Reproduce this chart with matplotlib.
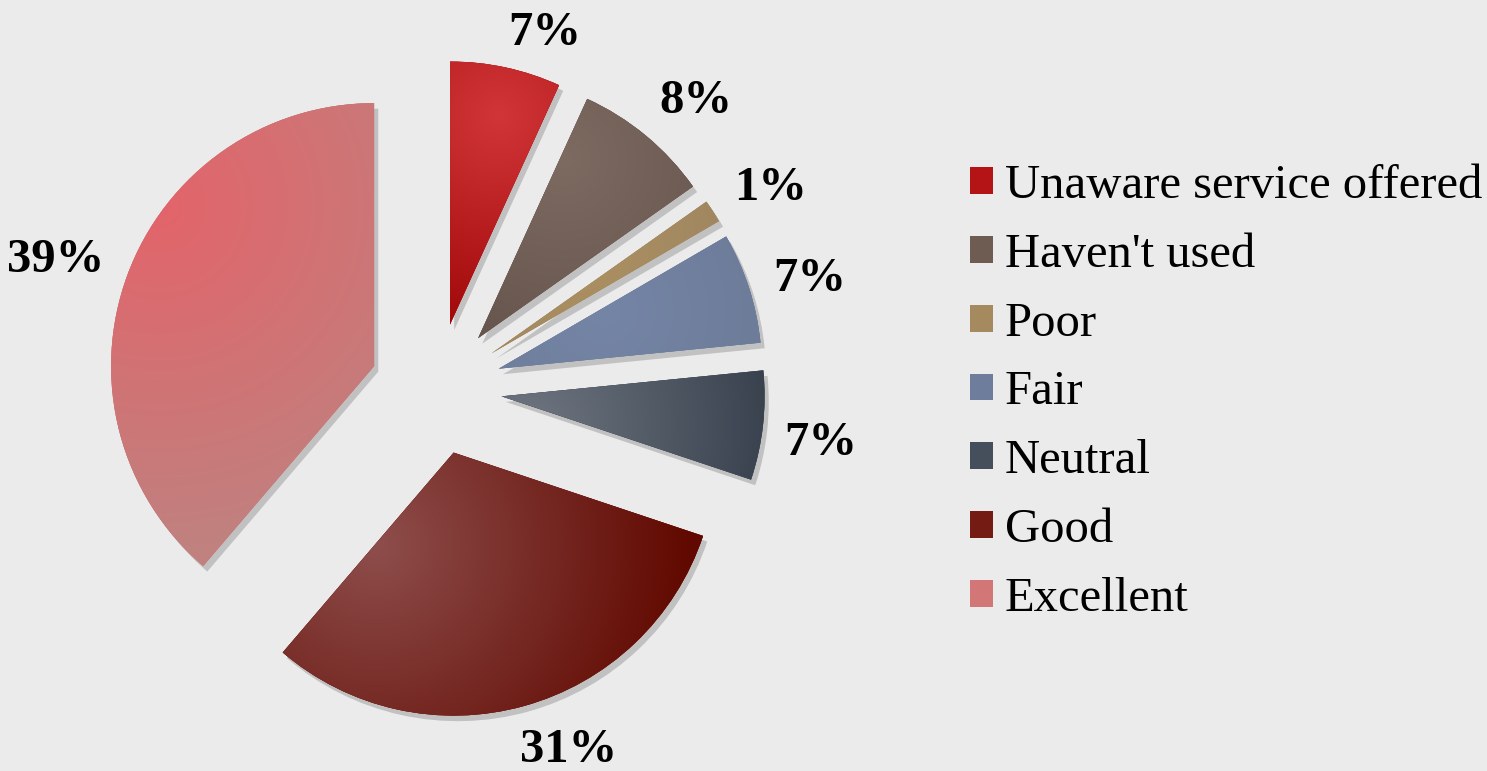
import numpy as np
import matplotlib.pyplot as plt
import matplotlib.patheffects as pe
from matplotlib.colors import to_rgb

# satisfaction survey responses (shares, labels rounded)
categories = ['Unaware service offered', "Haven't used", 'Poor', 'Fair',
              'Neutral', 'Good', 'Excellent']
shares = [6.8, 8.4, 1.4, 6.8, 6.7, 31.1, 38.7]
colors = ['#b41416', '#6e5b52', '#a58a60', '#6f7d9c', '#454f5c', '#741c14', '#d27678']

# per-slice shading: (light colour, dark colour, light spot as fraction of the
# wedge bbox, spread as fraction of radius)
shading = [
    ('#d13538', '#9c0405', (0.45, 0.80), 0.9),
    ('#7d6b62', '#5f4e46', (0.40, 0.75), 1.0),
    ('#ad9162', '#988060', (0.35, 0.70), 1.0),
    ('#7585a6', '#687690', (0.40, 0.45), 1.0),
    ('#6e7580', '#2e3844', (0.10, 0.50), 1.1),
    ('#8e4e4c', '#610900', (0.22, 0.65), 1.2),
    ('#e3646a', '#c0817f', (0.18, 0.78), 1.3),
]

W, H = 1487, 771
BG = '#ebebeb'
LABEL_GAP = 22      # px between slice edge and label box
DIGIT_H = 33        # px height of the bold digits


def shade_wedge(ax, w, light, dark, spot, spread):
    cx, cy = w.center
    r = w.r
    x0, x1, y0, y1 = cx - r, cx + r, cy - r, cy + r
    n = 300
    X, Y = np.meshgrid(np.linspace(x0, x1, n), np.linspace(y0, y1, n))
    bb = w.get_path().get_extents(w.get_patch_transform())
    sx = bb.x0 + spot[0] * bb.width
    sy = bb.y0 + spot[1] * bb.height
    t = np.clip(np.hypot(X - sx, Y - sy) / (spread * r), 0, 1)[..., None]
    img = (1 - t) * np.array(to_rgb(light)) + t * np.array(to_rgb(dark))
    im = ax.imshow(img, extent=(x0, x1, y0, y1), origin='lower',
                   interpolation='bilinear', zorder=w.get_zorder() + 0.1)
    im.set_clip_path(w)


fig = plt.figure(figsize=(W / 100, H / 100), dpi=100)
fig.patch.set_facecolor(BG)
ax = fig.add_axes([0, 0, 1, 1])
ax.set_facecolor(BG)

# explode is in data units here (1 unit = 1 px)
wedges, texts, autotexts = ax.pie(
    shares,
    colors=colors,
    explode=[66] * len(shares),
    startangle=90,
    counterclock=False,
    center=(436, 382),
    radius=263,
    autopct=lambda p: f'{p:.0f}%',
    pctdistance=1.22,
    frame=True,
    textprops=dict(family='Liberation Serif', fontsize=35, fontweight='bold',
                   color='black', zorder=5),
)

for w, (light, dark, spot, spread) in zip(wedges, shading):
    w.set_path_effects([pe.withSimplePatchShadow(offset=(3, -4), alpha=0.25,
                                                 shadow_rgbFace='#444444'),
                        pe.Normal()])
    shade_wedge(ax, w, light, dark, spot, spread)

ax.set_xlim(0, W)
ax.set_ylim(0, H)
ax.set_aspect('equal')
ax.axis('off')

# place labels "outside end", roughly the way the office chart does it
fig.canvas.draw()
renderer = fig.canvas.get_renderer()
for w, t in zip(wedges, autotexts):
    ang = np.deg2rad((w.theta1 + w.theta2) / 2)
    ux, uy = np.cos(ang), np.sin(ang)
    tw = t.get_window_extent(renderer).width
    d = w.r + LABEL_GAP + abs(ux) * tw / 2 + max(uy, 0) * DIGIT_H / 2
    cx, cy = w.center
    x = cx + d * ux + np.sign(ux) * (1 - abs(ux)) * tw / 2
    y = cy + d * uy - DIGIT_H / 2 - 6
    t.set_position((x, y))
    t.set_verticalalignment('baseline')

leg = ax.legend(wedges, categories,
                loc='upper left', bbox_to_anchor=(970 / W, 1 - 164 / H),
                bbox_transform=fig.transFigure,
                frameon=False,
                prop=dict(family='Liberation Serif', size=35),
                handlelength=0.47, handleheight=0.47,
                handletextpad=0.25, labelspacing=0.51,
                borderpad=0, borderaxespad=0)
for h in leg.legend_handles:
    h.set_path_effects([])

fig.savefig('out.png', dpi=100, facecolor=fig.get_facecolor())
